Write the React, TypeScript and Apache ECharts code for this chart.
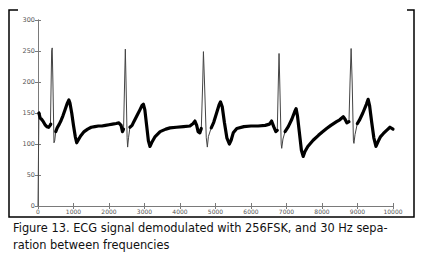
import React, { useEffect, useRef } from "react";
import * as echarts from "echarts";

// ECG wave (noisy band), [sample, value]; null separates segments at QRS spikes
const waveSamples: (number | null)[] = [
  25, 60, 100, 150, 200, 250, 300, 340, 360, null,
  500, 540, 600, 650, 700, 760, 820, 870, 900, 950, 1000, 1050, 1090, 1130, 1200, 1300, 1400, 1500, 1600, 1700, 1800, 1900, 2000, 2100, 2200, 2280, 2340, 2380, 2410, null,
  2590, 2650, 2700, 2800, 2870, 2930, 2970, 3010, 3060, 3110, 3155, 3200, 3300, 3440, 3600, 3720, 3900, 4100, 4280, 4370, 4420, 4470, 4510, 4560, 4600, null,
  4880, 4950, 5020, 5100, 5140, 5190, 5250, 5320, 5390, 5440, 5500, 5600, 5800, 6000, 6200, 6400, 6520, 6580, 6640, 6700, 6740, null,
  6960, 7050, 7150, 7230, 7270, 7310, 7360, 7420, 7470, 7520, 7600, 7750, 7900, 8000, 8130, 8250, 8410, 8500, 8600, 8650, 8700, 8760, null,
  8995, 9050, 9150, 9250, 9300, 9340, 9400, 9460, 9520, 9580, 9650, 9730, 9820, 9915, 10000,
];
const waveValues: (number | null)[] = [
  150, 142, 140, 136, 131, 128, 127, 130, 132, null,
  120, 126, 132, 138, 145, 155, 165, 171, 166, 150, 130, 112, 102, 106, 113, 120, 124, 127, 128, 129, 129, 130, 131, 132, 133, 134, 130, 120, 124, null,
  127, 130, 136, 147, 155, 162, 164, 155, 130, 105, 96, 102, 112, 120, 124, 126, 127, 128, 129, 133, 137, 130, 120, 118, 125, null,
  126, 135, 148, 163, 168, 160, 135, 110, 100, 106, 118, 125, 128, 129, 129, 130, 132, 137, 128, 120, 122, null,
  120, 128, 140, 152, 157, 145, 120, 90, 80, 88, 96, 106, 114, 119, 125, 130, 136, 139, 144, 140, 134, 136, null,
  133, 138, 150, 164, 172, 162, 135, 110, 96, 104, 112, 117, 122, 127, 124,
];

// QRS spikes (thin), null separates complexes
const spikeSamples: (number | null)[] = [
  0, 25, null,
  350, 385, 400, 420, 450, 470, 500, null,
  2410, 2440, 2460, 2480, 2510, 2525, 2550, 2590, null,
  4600, 4640, 4660, 4690, 4740, 4770, 4800, 4880, null,
  6740, 6770, 6790, 6810, 6850, 6865, 6900, 6960, null,
  8760, 8790, 8820, 8850, 8885, 8900, 8930, 8995,
];
const spikeValues: (number | null)[] = [
  0, 150, null,
  130, 250, 255, 200, 102, 105, 120, null,
  124, 200, 253, 200, 110, 95, 110, 127, null,
  125, 200, 249, 200, 110, 95, 112, 126, null,
  122, 200, 246, 200, 100, 93, 108, 120, null,
  136, 200, 254, 200, 105, 101, 115, 133,
];

const xTicks = [0, 10000, 1000];
const yTicks = [0, 300, 50];
const captionLines = [
  "Figure 13. ECG signal demodulated with 256FSK, and 30 Hz sepa-",
  "ration between frequencies",
];

const pair = (xs: (number | null)[], ys: (number | null)[]) =>
  xs.map((x, i) => (x === null || ys[i] === null ? [null, null] : [x, ys[i]]));

export default function App() {
  const ref = useRef<HTMLDivElement>(null);
  useEffect(() => {
    if (!ref.current) return;
    const chart = echarts.init(ref.current, undefined, { renderer: "svg" });
    const axisGray = "#7a7a7a";
    const labelStyle = {
      color: "#555",
      fontFamily: "DejaVu Sans",
      fontSize: 6,
      formatter: (v: number) => String(v),
    };
    const baseX = {
      type: "value" as const,
      min: xTicks[0],
      max: xTicks[1],
      interval: xTicks[2],
      axisLine: { show: true, lineStyle: { color: axisGray, width: 1 } },
      axisTick: { show: true, inside: true, length: 3, lineStyle: { color: axisGray } },
      splitLine: { show: false },
    };
    const baseY = {
      type: "value" as const,
      min: yTicks[0],
      max: yTicks[1],
      interval: yTicks[2],
      axisLine: { show: true, lineStyle: { color: axisGray, width: 1 } },
      axisTick: { show: true, inside: true, length: 3, lineStyle: { color: axisGray } },
      splitLine: { show: false },
    };
    chart.setOption({
      animation: false,
      backgroundColor: "#fff",
      grid: { left: 38, top: 20, right: 30, bottom: 54, containLabel: false },
      xAxis: [
        { ...baseX, position: "bottom", axisLabel: { ...labelStyle, margin: 2 } },
        { ...baseX, position: "top", axisLabel: { show: false } },
      ],
      yAxis: [
        { ...baseY, position: "left", axisLabel: { ...labelStyle, fontSize: 6.5, margin: 3 } },
        { ...baseY, position: "right", axisLabel: { show: false } },
      ],
      series: [
        {
          type: "line",
          data: pair(waveSamples, waveValues),
          showSymbol: false,
          connectNulls: false,
          lineStyle: { color: "#000", width: 3.2, join: "round", cap: "round" },
          z: 3,
        },
        {
          type: "line",
          data: pair(spikeSamples, spikeValues),
          showSymbol: false,
          connectNulls: false,
          lineStyle: { color: "#444", width: 1 },
          z: 2,
        },
      ],
      graphic: [
        {
          type: "polyline",
          shape: { points: [[18, 10], [9, 10], [9, 217], [414, 217], [414, 10], [407, 10]] },
          style: { stroke: "#000", lineWidth: 1.5, fill: null },
        },
        ...captionLines.map((t, i) => ({
          type: "text",
          x: 13,
          y: 228 + i * 17,
          style: {
            text: t,
            font: "11.4px 'DejaVu Sans'",
            fill: "#111",
            textVerticalAlign: "middle",
          },
        })),
      ],
    });
    return () => chart.dispose();
  }, []);
  return (
    <div
      ref={ref}
      style={{ position: "fixed", left: 0, top: 0, width: 423, height: 260, background: "#fff" }}
    />
  );
}
